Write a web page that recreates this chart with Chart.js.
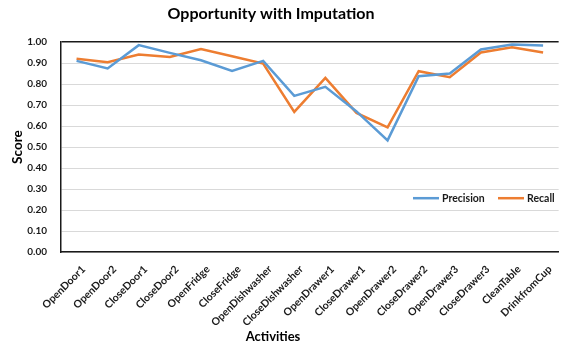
<!DOCTYPE html>
<html>
<head>
<meta charset="utf-8">
<script src="https://cdn.jsdelivr.net/npm/chart.js@4.4.1/dist/chart.umd.min.js"></script>
<style>
  html, body { margin: 0; padding: 0; background: #fff; overflow: hidden; }
  #wrap { width: 563px; height: 347px; }
</style>
</head>
<body>
<div id="wrap"><canvas id="c" width="563" height="347"></canvas></div>
<script>
const categories = ["OpenDoor1","OpenDoor2","CloseDoor1","CloseDoor2","OpenFridge","CloseFridge","OpenDishwasher","CloseDishwasher","OpenDrawer1","CloseDrawer1","OpenDrawer2","CloseDrawer2","OpenDrawer3","CloseDrawer3","CleanTable","DrinkfromCup"];
const precision = [0.911, 0.875, 0.986, 0.949, 0.914, 0.863, 0.911, 0.744, 0.787, 0.670, 0.532, 0.838, 0.851, 0.965, 0.989, 0.984];
const recall    = [0.921, 0.905, 0.941, 0.930, 0.967, 0.933, 0.898, 0.668, 0.830, 0.663, 0.594, 0.862, 0.833, 0.951, 0.976, 0.951];
const yTicks = [0, 0.1, 0.2, 0.3, 0.4, 0.5, 0.6, 0.7, 0.8, 0.9, 1.0];
const chartTitle = 'Opportunity with Imputation';
const xTitle = 'Activities';
const yTitle = 'Score';

const FONT = "Lato, 'Open Sans', sans-serif";

// Centre the chart title and x-axis title like the original (plot area runs past the right edge)
const titleCentre = {
  id: 'titleCentre',
  afterLayout(chart) {
    const tb = chart.titleBlock;
    if (tb) { tb.left = 0; tb.right = 542; tb.width = 542; }
  },
  afterDraw(chart) {
    const ctx = chart.ctx;
    ctx.save();
    ctx.font = "bold 13px " + FONT;
    ctx.fillStyle = '#000';
    ctx.textAlign = 'center';
    ctx.textBaseline = 'middle';
    ctx.fillText(xTitle, 273, chart.height - 10);
    ctx.restore();
  }
};

const insideLegend = {
  id: 'insideLegend',
  afterDraw(chart) {
    const ctx = chart.ctx;
    const area = chart.chartArea;
    const y = area.top + 156;
    const xs = [413, 498];
    ctx.save();
    ctx.font = "bold 10.5px " + FONT;
    ctx.textBaseline = 'middle';
    ctx.fillStyle = '#1a1a1a';
    chart.data.datasets.forEach((ds, i) => {
      const x = xs[i];
      ctx.strokeStyle = ds.borderColor;
      ctx.lineWidth = 2.5;
      ctx.beginPath();
      ctx.moveTo(x, y);
      ctx.lineTo(x + 26, y);
      ctx.stroke();
      ctx.fillText(ds.label, x + 29, y);
    });
    ctx.restore();
  }
};

new Chart(document.getElementById('c'), {
  type: 'line',
  data: {
    labels: categories,
    datasets: [
      { label: 'Precision', data: precision, borderColor: '#5B9BD5', backgroundColor: '#5B9BD5', borderWidth: 2.5, pointRadius: 0, tension: 0, fill: false },
      { label: 'Recall', data: recall, borderColor: '#ED7D31', backgroundColor: '#ED7D31', borderWidth: 2.5, pointRadius: 0, tension: 0, fill: false }
    ]
  },
  options: {
    responsive: false,
    animation: false,
    layout: { padding: { left: 0, right: -12, top: 0, bottom: 0 } },
    plugins: {
      legend: { display: false },
      tooltip: { enabled: false },
      title: {
        display: true,
        text: chartTitle,
        color: '#000',
        font: { family: FONT, size: 16, weight: 'bold' },
        padding: { top: 4, bottom: 19 }
      }
    },
    scales: {
      x: {
        type: 'category',
        offset: true,
        grid: { display: false, drawTicks: false },
        border: { display: true, color: '#1a1a1a', width: 1.5 },
        ticks: {
          autoSkip: false,
          maxRotation: 45,
          minRotation: 45,
          padding: 11,
          labelOffset: 7,
          color: '#1a1a1a',
          font: { family: FONT, size: 10.5, weight: 'bold' }
        },
        title: { display: false, text: xTitle },
        afterFit(scale) { scale.height = 95; }
      },
      y: {
        min: 0,
        max: 1,
        afterBuildTicks(scale) { scale.ticks = yTicks.map(v => ({ value: v })); },
        grid: {
          drawTicks: false,
          color: ctx => (ctx.tick && Math.abs(ctx.tick.value - 1) < 1e-9) ? '#1a1a1a' : '#D9D9D9',
          lineWidth: ctx => (ctx.tick && Math.abs(ctx.tick.value - 1) < 1e-9) ? 1.5 : 1
        },
        border: { display: true, color: '#1a1a1a', width: 1.5 },
        ticks: {
          padding: 14,
          color: '#1a1a1a',
          font: { family: FONT, size: 10, weight: 'bold' },
          callback: v => Number(v).toFixed(2)
        },
        title: {
          display: true,
          text: yTitle,
          color: '#000',
          font: { family: FONT, size: 13.5, weight: 'bold' },
          padding: { top: 10, bottom: 0 }
        },
        afterFit(scale) { scale.width = 61; }
      }
    }
  },
  plugins: [titleCentre, insideLegend]
});
</script>
</body>
</html>
